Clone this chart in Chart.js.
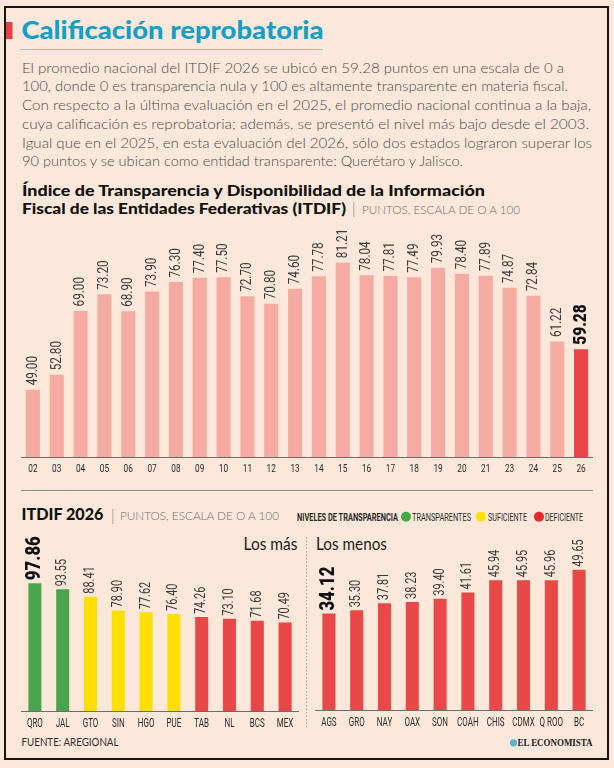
<!DOCTYPE html>
<html lang="es">
<head>
<meta charset="utf-8">
<title>Calificación reprobatoria</title>
<script src="https://cdn.jsdelivr.net/npm/chart.js@4.4.1/dist/chart.umd.min.js"></script>
<style>
  body { margin: 0; width: 614px; height: 768px; background: #fbe8da; position: relative; overflow: hidden; }
  #marco { position: absolute; left: 4px; top: 6px; width: 605px; height: 754px; border: 2px solid #151515; box-sizing: border-box; }
  #textos { position: absolute; left: 0; top: 0; }
  .grafica { position: absolute; }
  #g1 { left: 21px; top: 226px; width: 572px; height: 255px; }
  #g2 { left: 21px; top: 534px; width: 278px; height: 201px; }
  #g3 { left: 315px; top: 534px; width: 278px; height: 200px; }
</style>
</head>
<body>
<div id="marco"></div>
<svg id="textos" width="614" height="768" xmlns="http://www.w3.org/2000/svg">
  <rect x="6" y="22" width="6.5" height="17" fill="#e8403e"/>
  <text x="21.5" y="39" font-family="Lato" font-weight="900" font-size="24" fill="#159fc7" textLength="302" lengthAdjust="spacingAndGlyphs">Calificación reprobatoria</text>
  <line x1="20" y1="49.5" x2="323" y2="49.5" stroke="#93c4d1" stroke-width="1"/>

  <g font-family="Lato" font-weight="300" font-size="14.5" fill="#4a4a4a">
    <text x="22" y="72.7" textLength="542" lengthAdjust="spacingAndGlyphs">El promedio nacional del ITDIF 2026 se ubicó en 59.28 puntos en una escala de 0 a</text>
    <text x="22" y="91.4" textLength="546" lengthAdjust="spacingAndGlyphs">100, donde 0 es transparencia nula y 100 es altamente transparente en materia fiscal.</text>
    <text x="22" y="110.1" textLength="569" lengthAdjust="spacingAndGlyphs">Con respecto a la última evaluación en el 2025, el promedio nacional continua a la baja,</text>
    <text x="22" y="128.8" textLength="567" lengthAdjust="spacingAndGlyphs">cuya calificación es reprobatoria; además, se presentó el nivel más bajo desde el 2003.</text>
    <text x="22" y="147.5" textLength="570" lengthAdjust="spacingAndGlyphs">Igual que en el 2025, en esta evaluación del 2026, sólo dos estados lograron superar los</text>
    <text x="22" y="166.2" textLength="441" lengthAdjust="spacingAndGlyphs">90 puntos y se ubican como entidad transparente: Querétaro y Jalisco.</text>
  </g>

  <g font-family="Lato" font-weight="900" font-size="15.5" fill="#111">
    <text x="22" y="195.7" textLength="463" lengthAdjust="spacingAndGlyphs">Índice de Transparencia y Disponibilidad de la Información</text>
    <text x="22" y="214.3" textLength="324" lengthAdjust="spacingAndGlyphs">Fiscal de las Entidades Federativas (ITDIF)</text>
  </g>
  <text x="352" y="214.3" font-family="Lato" font-weight="300" font-size="15" fill="#777">|</text>
  <text x="362" y="214" font-family="Lato" font-weight="300" font-size="11.5" fill="#6e6e6e" textLength="158" lengthAdjust="spacingAndGlyphs">PUNTOS, ESCALA DE O A 100</text>

  <line x1="21" y1="490.5" x2="593" y2="490.5" stroke="#8c8c8c" stroke-width="1"/>

  <text x="21.5" y="520" font-family="Lato" font-weight="900" font-size="16" fill="#111" textLength="82" lengthAdjust="spacingAndGlyphs">ITDIF 2026</text>
  <text x="111" y="520.5" font-family="Lato" font-weight="300" font-size="15" fill="#777">|</text>
  <text x="120" y="520" font-family="Lato" font-weight="300" font-size="11.5" fill="#6e6e6e" textLength="159" lengthAdjust="spacingAndGlyphs">PUNTOS, ESCALA DE O A 100</text>

  <g font-family="Roboto, sans-serif" font-size="11" fill="#2b2b2b">
    <text x="297" y="520.7" font-weight="bold" textLength="101" lengthAdjust="spacingAndGlyphs">NIVELES DE TRANSPARENCIA</text>
    <circle cx="406" cy="516.7" r="5" fill="#45a84a"/>
    <text x="412" y="520.7" textLength="59" lengthAdjust="spacingAndGlyphs">TRANSPARENTES</text>
    <circle cx="481" cy="516.7" r="5" fill="#ffe100"/>
    <text x="488" y="520.7" textLength="39" lengthAdjust="spacingAndGlyphs">SUFICIENTE</text>
    <circle cx="539" cy="516.7" r="5" fill="#e8262e"/>
    <text x="545" y="520.7" textLength="38" lengthAdjust="spacingAndGlyphs">DEFICIENTE</text>
  </g>

  <g font-family="Lato" font-weight="400" font-size="17.5" fill="#1c1c1c">
    <text x="243.5" y="550" textLength="54" lengthAdjust="spacingAndGlyphs">Los más</text>
    <text x="316" y="550" textLength="71" lengthAdjust="spacingAndGlyphs">Los menos</text>
  </g>
  <line x1="306.5" y1="537" x2="306.5" y2="727" stroke="#a5a5a5" stroke-width="1" stroke-dasharray="1.5 2"/>

  <text x="21.5" y="746" font-family="Lato" font-weight="400" font-size="11" fill="#2e2e2e" textLength="97" lengthAdjust="spacingAndGlyphs">FUENTE: AREGIONAL</text>
  <circle cx="513.5" cy="742.8" r="3.6" fill="#54b5cc"/>
  <text x="517.5" y="746.3" font-family="'Liberation Serif', serif" font-weight="bold" font-size="10.5" fill="#1a1a1a" textLength="75" lengthAdjust="spacingAndGlyphs">EL ECONOMISTA</text>
</svg>

<div class="grafica" id="g1"><canvas id="historico"></canvas></div>
<div class="grafica" id="g2"><canvas id="masAltos"></canvas></div>
<div class="grafica" id="g3"><canvas id="masBajos"></canvas></div>

<script>
// ITDIF nacional por año
const anios = ['02', '03', '04', '05', '06', '07', '08', '09', '10', '11', '12', '13',
    '14', '15', '16', '17', '18', '19', '20', '21', '23', '24', '25', '26'];
const promedios = [49.00, 52.80, 69.00, 73.20, 68.90, 73.90, 76.30, 77.40, 77.50, 72.70, 70.80, 74.60,
    77.78, 81.21, 78.04, 77.81, 77.49, 79.93, 78.40, 77.89, 74.87, 72.84, 61.22, 59.28];

// ITDIF 2026, los más
const estadosMas = ['QRO', 'JAL', 'GTO', 'SIN', 'HGO', 'PUE', 'TAB', 'NL', 'BCS', 'MEX'];
const puntosMas = [97.86, 93.55, 88.41, 78.90, 77.62, 76.40, 74.26, 73.10, 71.68, 70.49];
const nivelesMas = ['T', 'T', 'S', 'S', 'S', 'S', 'D', 'D', 'D', 'D'];

// ITDIF 2026, los menos
const estadosMenos = ['AGS', 'GRO', 'NAY', 'OAX', 'SON', 'COAH', 'CHIS', 'CDMX', 'Q ROO', 'BC'];
const puntosMenos = [34.12, 35.30, 37.81, 38.23, 39.40, 41.61, 45.94, 45.95, 45.96, 49.65];
const nivelesMenos = ['D', 'D', 'D', 'D', 'D', 'D', 'D', 'D', 'D', 'D'];

const colorNivel = { T: '#4aa64d', S: '#ffdf00', D: '#e94848' };
const fuente = 'Roboto, sans-serif';

// valores en vertical encima de cada barra (letra angosta a mano con scale)
const etiquetas = {
    id: 'etiquetas',
    afterDatasetsDraw(chart, args, opts) {
        const ctx = chart.ctx;
        const valores = chart.data.datasets[0].data;
        chart.getDatasetMeta(0).data.forEach((barra, i) => {
            const destacado = i === opts.destacado;
            ctx.save();
            ctx.translate(barra.x, barra.y - opts.separacion);
            ctx.rotate(-Math.PI / 2);
            ctx.scale(destacado ? 0.86 : 0.78, 1);
            ctx.font = (destacado ? '900 ' + opts.grande : opts.tamano) + 'px ' + fuente;
            ctx.fillStyle = destacado ? '#111' : '#3a3a3a';
            ctx.textAlign = 'left';
            ctx.textBaseline = 'middle';
            ctx.fillText(valores[i].toFixed(2), 0, 0);
            ctx.restore();
        });
    }
};

// rotulos del eje x, tambien angostos, en la posicion de cada tick
const rotulos = {
    id: 'rotulos',
    afterDraw(chart, args, opts) {
        const ctx = chart.ctx;
        const eje = chart.scales.x;
        ctx.save();
        ctx.font = opts.tamano + 'px ' + fuente;
        ctx.fillStyle = '#2a2a2a';
        ctx.textAlign = 'center';
        ctx.textBaseline = 'middle';
        chart.data.labels.forEach((txt, i) => {
            ctx.save();
            ctx.translate(eje.getPixelForTick(i), eje.top + 12.5);
            ctx.scale(opts.angosto, 1);
            ctx.fillText(txt, 0, 0);
            ctx.restore();
        });
        ctx.restore();
    }
};

function opciones(min, max, etiq, rot) {
    return {
        responsive: true,
        maintainAspectRatio: false,
        animation: false,
        layout: { padding: 0 },
        plugins: {
            legend: { display: false },
            tooltip: { enabled: false },
            etiquetas: etiq,
            rotulos: rot
        },
        scales: {
            x: {
                grid: { display: false, drawTicks: false },
                border: { display: true, color: '#6b6b6b', width: 1 },
                ticks: { display: false, autoSkip: false },
                afterFit(escala) { escala.height = 24; }
            },
            y: { display: false, min: min, max: max }
        }
    };
}

//historico
new Chart(document.getElementById('historico'), {
    type: 'bar',
    data: {
        labels: anios,
        datasets: [{
            data: promedios,
            backgroundColor: anios.map((a, i) => i === anios.length - 1 ? '#e8474a' : '#f5aba1'),
            categoryPercentage: 1,
            barPercentage: 0.59
        }]
    },
    options: opciones(32, 90.5, { destacado: anios.length - 1, tamano: 15, grande: 18, separacion: 4.5 },
        { tamano: 11.5, angosto: 0.72 }),
    plugins: [etiquetas, rotulos]
});

//los mas
new Chart(document.getElementById('masAltos'), {
    type: 'bar',
    data: {
        labels: estadosMas,
        datasets: [{
            data: puntosMas,
            backgroundColor: nivelesMas.map(n => colorNivel[n]),
            categoryPercentage: 1,
            barPercentage: 0.47
        }]
    },
    options: opciones(9, 132, { destacado: 0, tamano: 14, grande: 19.5, separacion: 3 },
        { tamano: 12.5, angosto: 0.64 }),
    plugins: [etiquetas, rotulos]
});

//los menos
new Chart(document.getElementById('masBajos'), {
    type: 'bar',
    data: {
        labels: estadosMenos,
        datasets: [{
            data: puntosMenos,
            backgroundColor: nivelesMenos.map(n => colorNivel[n]),
            categoryPercentage: 1,
            barPercentage: 0.47
        }]
    },
    options: opciones(0, 62.3, { destacado: 0, tamano: 14, grande: 19.5, separacion: 3 },
        { tamano: 12.5, angosto: 0.64 }),
    plugins: [etiquetas, rotulos]
});
</script>
</body>
</html>
